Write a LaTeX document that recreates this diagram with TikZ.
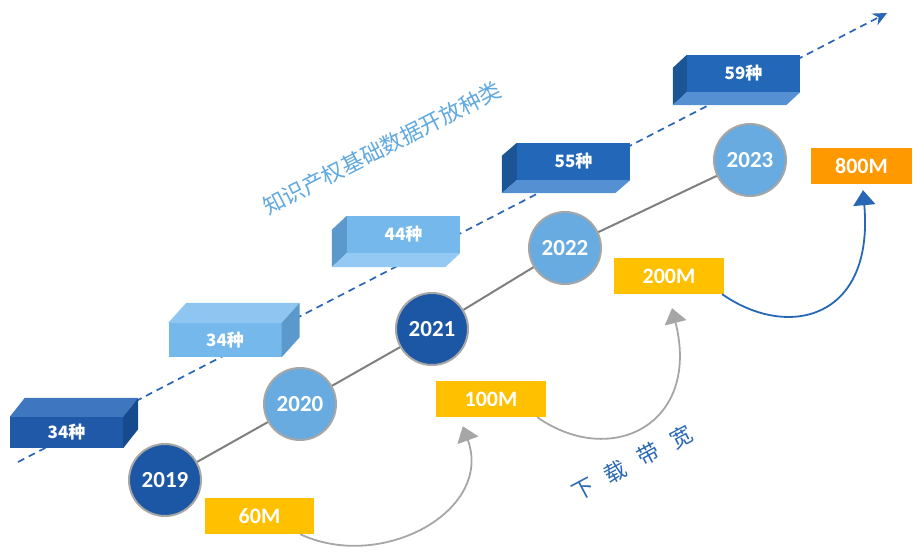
\documentclass[tikz,border=0pt]{standalone}
\usepackage{fontspec}
\setmainfont{Carlito}[BoldFont={Carlito Bold}]
\newfontfamily\cjk{Noto Sans CJK SC}
\usetikzlibrary{arrows.meta}
\definecolor{darkfront}{HTML}{2059A8}
\definecolor{darktop}{HTML}{3E77BF}
\definecolor{darkside}{HTML}{164A8C}
\definecolor{deepfront}{HTML}{2368B8}
\definecolor{deepside}{HTML}{1C5596}
\definecolor{deepbottom}{HTML}{5590D2}
\definecolor{lightfront}{HTML}{74B8EC}
\definecolor{lighttop}{HTML}{8EC6F1}
\definecolor{lightside}{HTML}{5B98CB}
\definecolor{lightbottom}{HTML}{94C9F3}
\definecolor{circdark}{HTML}{1B57A4}
\definecolor{circlight}{HTML}{67ABE0}
\definecolor{ring}{HTML}{A6A6A6}
\definecolor{spinegray}{HTML}{7F7F7F}
\definecolor{gold}{HTML}{FFC000}
\definecolor{amber}{HTML}{FF9900}
\definecolor{trendblue}{HTML}{2A66B4}
\definecolor{kindblue}{HTML}{5FA8E0}
\definecolor{rateblue}{HTML}{2767B5}
\begin{document}
\begin{tikzpicture}[x=1pt,y=1pt,
    year/.style={circle,draw=ring,line width=2pt,minimum size=72pt,inner sep=0pt,
      text=white,font=\bfseries\fontsize{23}{26}\selectfont},
    rate/.style={rectangle,minimum width=110pt,minimum height=36pt,inner sep=0pt,
      text=white,font=\bfseries\fontsize{22}{26}\selectfont},
    front/.style={rectangle,minimum width=113pt,inner sep=0pt,
      text=white,font=\cjk\bfseries\fontsize{17}{20}\selectfont},
    spine/.style={draw=spinegray,line width=2pt},
    growth/.style={line width=1.8pt,-{Triangle[length=15pt,width=22pt]}},
  ]
  \useasboundingbox (0,0) rectangle (913,552);

  \coordinate (trend0) at (18,90);
  \coordinate (trend1) at (887,539);
  \draw[trendblue,line width=1.7pt,dash pattern=on 7pt off 5pt,
    -{Stealth[length=14pt,width=13pt]}] (trend0) -- (trend1);

  \node[front,fill=darkfront,minimum height=31pt] (k1) at (66.5,119.5) {34种};
  \fill[darktop] (k1.north west) -- ++(15,19) -- ([shift={(15,19)}]k1.north east) -- (k1.north east) -- cycle;
  \fill[darkside] (k1.north east) -- ++(15,19) -- ([shift={(15,19)}]k1.south east) -- (k1.south east) -- cycle;

  \node[front,fill=lightfront,minimum height=34pt] (k2) at (225,212) {34种};
  \fill[lighttop] (k2.north west) -- ++(18,20) -- ([shift={(18,20)}]k2.north east) -- (k2.north east) -- cycle;
  \fill[lightside] (k2.north east) -- ++(18,20) -- ([shift={(18,20)}]k2.south east) -- (k2.south east) -- cycle;

  \node[front,fill=lightfront,minimum height=37pt] (k3) at (403.5,317.5) {44种};
  \fill[lightside] (k3.north west) -- ++(-15,-14) -- ([shift={(-15,-14)}]k3.south west) -- (k3.south west) -- cycle;
  \fill[lightbottom] (k3.south west) -- ++(-15,-14) -- ([shift={(-15,-14)}]k3.south east) -- (k3.south east) -- cycle;

  \node[front,fill=deepfront,minimum height=37pt] (k4) at (573.5,390.5) {55种};
  \fill[deepside] (k4.north west) -- ++(-15,-13) -- ([shift={(-15,-13)}]k4.south west) -- (k4.south west) -- cycle;
  \fill[deepbottom] (k4.south west) -- ++(-15,-13) -- ([shift={(-15,-13)}]k4.south east) -- (k4.south east) -- cycle;

  \node[front,fill=deepfront,minimum height=37pt] (k5) at (743.5,478.5) {59种};
  \fill[deepside] (k5.north west) -- ++(-14,-13) -- ([shift={(-14,-13)}]k5.south west) -- (k5.south west) -- cycle;
  \fill[deepbottom] (k5.south west) -- ++(-14,-13) -- ([shift={(-14,-13)}]k5.south east) -- (k5.south east) -- cycle;

  \node[rotate=27,text=kindblue,font=\cjk\fontsize{22}{26}\selectfont] (kind) at (382,404)
    {知识产权基础数据开放种类};

  \node[year,fill=circdark] (y19) at (165,72) {2019};
  \node[year,fill=circlight] (y20) at (300,148) {2020};
  \node[year,fill=circdark] (y21) at (432,223) {2021};
  \node[year,fill=circlight] (y22) at (565,304) {2022};
  \node[year,fill=circlight] (y23) at (750,392) {2023};
  \draw[spine] (y19) -- (y20);
  \draw[spine] (y20) -- (y21);
  \draw[spine] (y21) -- (y22);
  \draw[spine] (y22) -- (y23);

  \node[rate,fill=gold,minimum width=109pt] (m60) at (259.5,36) {60M};
  \node[rate,fill=gold] (m100) at (491,153) {100M};
  \node[rate,fill=gold] (m200) at (669,276) {200M};
  \node[rate,fill=amber,minimum width=101pt] (m800) at (861.5,386) {800M};

  \coordinate (t100) at ([shift={(27,-9)}]m100.south west);
  \coordinate (t200) at ([shift={(3,-14)}]m200.south);
  \coordinate (t800) at ([shift={(1.5,-6)}]m800.south);
  \draw[growth,ring] ([xshift=-14pt]m60.south east)
    to[out=-25,in=-70,out distance=90pt,in distance=90pt] (t100);
  \draw[growth,ring] ([xshift=-9pt]m100.south east)
    to[out=-35,in=-76,out distance=90pt,in distance=120pt] (t200);
  \draw[growth,rateblue] ([xshift=-2pt]m200.south east)
    to[out=-35,in=-85,out distance=80pt,in distance=130pt] (t800);

  \node[rotate=28,text=rateblue,font=\cjk\fontsize{22}{26}\selectfont] (bw) at (632,89)
    {下\hspace{15pt}载\hspace{15pt}带\hspace{15pt}宽};
\end{tikzpicture}
\end{document}
